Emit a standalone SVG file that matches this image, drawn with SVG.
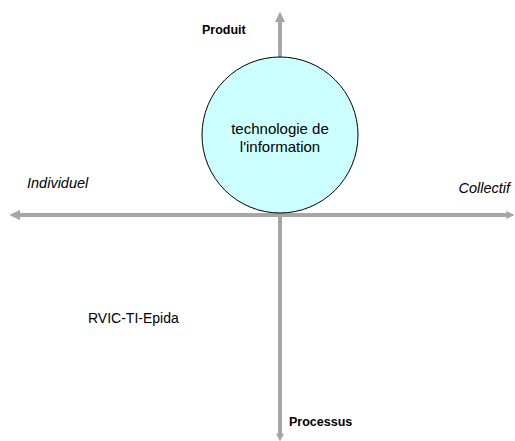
<svg xmlns="http://www.w3.org/2000/svg" width="515" height="441" viewBox="0 0 515 441">
<style>
.ax{stroke:#a6a6a6;stroke-width:4;fill:none}
.t{font-family:"Liberation Sans",Arial,sans-serif;fill:#000}
.b{font-weight:bold;font-size:12.5px}
.i{font-style:italic;font-size:14.5px}
</style>
<defs>
<marker id="ah" viewBox="0 0 10 10" refX="2" refY="5" markerWidth="2.6" markerHeight="2.6" orient="auto" markerUnits="strokeWidth">
<path d="M0,0 L10,5 L0,10 Z" fill="#a6a6a6"/>
</marker>
<marker id="ahs" viewBox="0 0 10 10" refX="2" refY="5" markerWidth="2" markerHeight="2.4" orient="auto" markerUnits="strokeWidth">
<path d="M0,0 L10,5 L0,10 Z" fill="#a6a6a6"/>
</marker>
</defs>
<rect width="515" height="441" fill="#fff"/>
<g id="connectors">
<line class="ax" x1="280" y1="215" x2="280" y2="20" marker-end="url(#ah)"/>
<line class="ax" x1="280" y1="215" x2="280" y2="435" marker-end="url(#ahs)"/>
<line class="ax" x1="280" y1="215" x2="18" y2="215" marker-end="url(#ah)"/>
<line class="ax" x1="280" y1="215" x2="508" y2="215" marker-end="url(#ahs)"/>
</g>
<g id="circle">
<circle cx="280" cy="135" r="78" fill="#ccffff" stroke="#000" stroke-width="1"/>
<text class="t" x="280" y="134" font-size="15" text-anchor="middle">technologie de</text>
<text class="t" x="280" y="152" font-size="15" text-anchor="middle">l'information</text>
</g>
<g id="produit"><text class="t b" x="202" y="34">Produit</text></g>
<g id="processus"><text class="t b" x="289" y="426">Processus</text></g>
<g id="individuel"><text class="t i" x="27" y="188">Individuel</text></g>
<g id="collectif"><text class="t i" x="510" y="193" text-anchor="end">Collectif</text></g>
<g id="rvic"><text class="t" x="88" y="323" font-size="14">RVIC-TI-Epida</text></g>
</svg>
